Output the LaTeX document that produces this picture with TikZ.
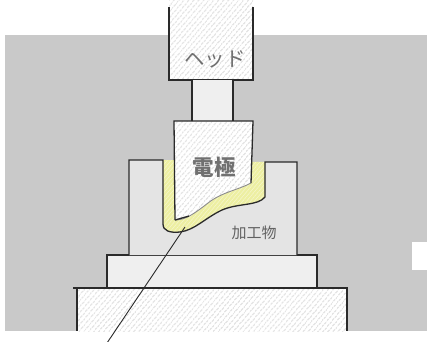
\documentclass[tikz,border=0pt]{standalone}
\usepackage{fontspec}
\newfontfamily\jpfont{Noto Sans CJK JP}
\usetikzlibrary{patterns.meta}
\definecolor{bg}{HTML}{C9C9C9}
\definecolor{work}{HTML}{E4E4E4}
\definecolor{plate}{HTML}{EFEFEF}
\definecolor{gap}{HTML}{EDEFA2}
\definecolor{ink}{HTML}{2A2A2A}
\definecolor{label}{HTML}{707070}

\begin{document}
\begin{tikzpicture}[x=1pt,y=-1pt,
  edgeline/.style={draw=ink,line width=1.3pt},
  hatched/.style={fill=white,postaction={pattern={Lines[angle=50,distance=4pt,line width=0.6pt]},pattern color=black!28}},
  gapfill/.style={fill=gap,postaction={pattern={Lines[angle=50,distance=3pt,line width=0.5pt]},pattern color=white!50!gap}},
  tag/.style={font=\jpfont,text=label,inner sep=0pt}]
\useasboundingbox (0,0) rectangle (427,341);

% backdrop
\fill[bg] (5,35) rectangle (427,331);
\fill[white] (412,242) rectangle (427,270);

% machine base (hatched, cut off at the bottom)
\path[hatched] (77,288) rectangle (347,331);
\draw[edgeline] (73,288) -- (348,288);
\draw[edgeline] (77,288) -- (77,331);
\draw[edgeline] (347,288) -- (347,331);

% table
\path[edgeline,fill=plate] (107,255) rectangle (317,288);

% workpiece with cavity
\fill[work] (129,255) -- (129,160) -- (163,160) -- (163,224)
  .. controls (163,231) and (170,233) .. (180,232)
  .. controls (195,230) and (205,218) .. (222,210)
  .. controls (238,203) and (258,206) .. (265,197)
  -- (265,162) -- (297,162) -- (297,255) -- cycle;
% machining gap
\path[gapfill] (163,160) -- (163,224)
  .. controls (163,231) and (170,233) .. (180,232)
  .. controls (195,230) and (205,218) .. (222,210)
  .. controls (238,203) and (258,206) .. (265,197)
  -- (265,162) -- cycle;
\draw[edgeline,line join=miter] (129,255) -- (129,160) -- (163,160) -- (163,224)
  .. controls (163,231) and (170,233) .. (180,232)
  .. controls (195,230) and (205,218) .. (222,210)
  .. controls (238,203) and (258,206) .. (265,197)
  -- (265,162) -- (297,162) -- (297,255);

% head
\path[hatched] (169,0) rectangle (253,80);
\draw[edgeline] (169,7) -- (169,80) -- (253,80) -- (253,7);

% shaft
\fill[plate] (192,80) rectangle (233,121);
\draw[edgeline] (192,80) -- (192,121);
\draw[edgeline] (233,80) -- (233,121);

% electrode
\path[hatched] (174,121) -- (253,121) -- (251,183)
  .. controls (238,190) and (222,192) .. (208,203)
  .. controls (195,213) and (186,220) .. (175,220) -- cycle;
\draw[edgeline] (175,220) -- (174,121) -- (253,121) -- (251,183);
\draw[draw=black!45,line width=0.9pt] (251,183)
  .. controls (238,190) and (222,192) .. (208,203)
  .. controls (195,213) and (186,220) .. (175,220);
\draw[edgeline] (175,220) -- (189,216);

% labels
\node[tag,font=\jpfont\fontsize{20.5}{20.5}\selectfont] (headlabel) at (215,59) {ヘッド};
\node[tag,font=\jpfont\bfseries\fontsize{21.5}{21.5}\selectfont] (electrodelabel) at (214,167) {電極};
\node[tag,font=\jpfont\fontsize{15}{15}\selectfont,text=black!62] (worklabel) at (254,233) {加工物};

% leader line from the gap
\coordinate (gapend) at (185,227);
\coordinate (leaderend) at (107,343);
\draw[ink,line width=0.9pt] (gapend) -- (leaderend);
\end{tikzpicture}
\end{document}
